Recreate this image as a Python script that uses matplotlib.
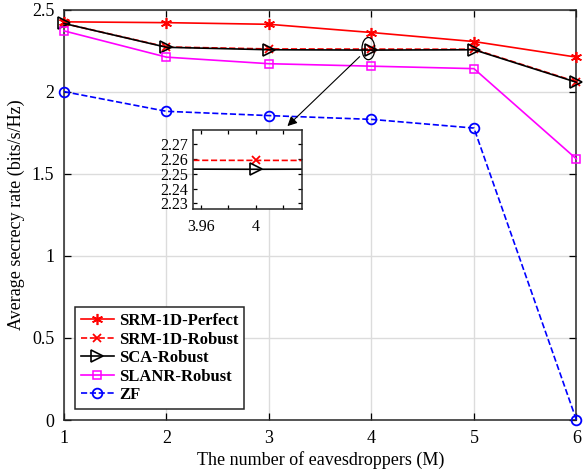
import matplotlib.pyplot as plt
from matplotlib.patches import Ellipse
from matplotlib.ticker import FuncFormatter

plt.rcParams['font.family'] = ['Liberation Serif', 'DejaVu Serif']

# secrecy rate vs number of eavesdroppers
M = [1, 2, 3, 4, 5, 6]
srm_perfect = [2.425, 2.42, 2.41, 2.36, 2.305, 2.21]
srm_robust = [2.415, 2.272, 2.26, 2.259, 2.258, 2.06]
sca_robust = [2.415, 2.27, 2.255, 2.253, 2.255, 2.057]
slanr_robust = [2.37, 2.21, 2.17, 2.155, 2.14, 1.59]
zf = [2.0, 1.88, 1.854, 1.831, 1.778, 0.0]

labels = ['SRM-1D-Perfect', 'SRM-1D-Robust', 'SCA-Robust', 'SLANR-Robust', 'ZF']
styles = [
    dict(color='red', ls='-', marker=(6, 2, 0), ms=8, mew=1.2),
    dict(color='red', ls='--', marker='x', ms=6, mew=1.3),
    dict(color='black', ls='-', marker='>', ms=8, mfc='none', mew=1.2),
    dict(color='magenta', ls='-', marker='s', ms=6, mfc='none', mew=1.1),
    dict(color='blue', ls='--', marker='o', ms=7, mfc='none', mew=1.3),
]
series = [srm_perfect, srm_robust, sca_robust, slanr_robust, zf]

fig = plt.figure(figsize=(5.87, 4.76), dpi=100)
ax = fig.add_axes([0.109, 0.1176, 0.873, 0.8624])

for y, lab, st in zip(series, labels, styles):
    ax.plot(M, y, lw=1.2, label=lab, clip_on=False, zorder=3, **st)

ax.set_xlim(1, 6)
ax.set_ylim(0, 2.5)
ax.set_xticks(M)
ax.set_yticks([0, 0.5, 1, 1.5, 2, 2.5])
ax.yaxis.set_major_formatter(FuncFormatter(lambda v, p: '%g' % v))
ax.grid(True, color='#dcdcdc', lw=1.0)
ax.set_axisbelow(True)
ax.tick_params(direction='in', top=True, right=True, length=5, labelsize=13,
               width=0.9, pad=7)
for s in ax.spines.values():
    s.set_linewidth(1.1)
    s.set_color('#262626')
ax.set_xlabel('The number of eavesdroppers (M)', fontsize=13, labelpad=3)
ax.set_ylabel('Average secrecy rate (bits/s/Hz)', fontsize=13, labelpad=5)

leg = ax.legend(loc='lower left', bbox_to_anchor=(0.021, 0.027), borderaxespad=0,
                prop={'weight': 'bold', 'size': 12}, handlelength=2.0,
                handletextpad=0.3, labelspacing=0.15, borderpad=0.35,
                fancybox=False, framealpha=1, edgecolor='#262626')
leg.get_frame().set_linewidth(1.1)

# zoom marker around M = 4 and arrow to the inset
ax.add_patch(Ellipse((3.97, 2.262), 0.125, 0.135, fill=False, ec='black', lw=0.9, zorder=4))
ax.annotate('', xy=(3.18, 1.79), xytext=(3.885, 2.213),
            arrowprops=dict(arrowstyle='-|>', color='black', lw=0.8,
                            mutation_scale=14, shrinkA=0, shrinkB=0))

ins = fig.add_axes([0.328, 0.5603, 0.1867, 0.1666])
ins.plot(M, srm_robust, lw=1.2, **styles[1])
ins.plot(M, sca_robust, lw=1.2, **styles[2])
ins.set_xlim(3.954, 4.034)
ins.set_ylim(2.226, 2.2795)
ins.set_xticks([3.96, 3.98, 4, 4.02])
ins.set_xticklabels(['3.96', '', '4', ''])
ins.set_yticks([2.23, 2.24, 2.25, 2.26, 2.27])
ins.set_yticklabels(['2.23', '2.24', '2.25', '2.26', '2.27'])
ins.tick_params(direction='in', top=True, right=True, length=3, labelsize=11.5,
                width=0.9, pad=3)
ins.tick_params(axis='x', pad=7)
for s in ins.spines.values():
    s.set_linewidth(1.1)
    s.set_color('#262626')

fig.savefig('out.png', dpi=100)
